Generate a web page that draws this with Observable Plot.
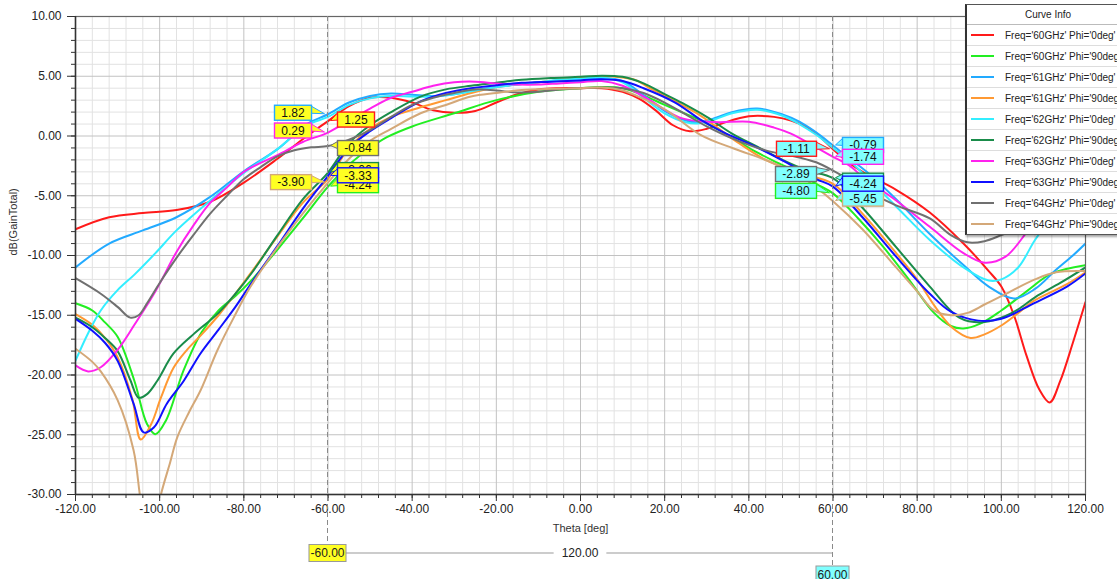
<!DOCTYPE html>
<html>
<head>
<meta charset="utf-8">
<script src="https://cdn.jsdelivr.net/npm/d3@7"></script>
<script src="https://cdn.jsdelivr.net/npm/@observablehq/plot@0.6"></script>
<style>
  body { margin: 0; background: #fff; }
  #wrap { position: relative; width: 1117px; height: 579px; overflow: hidden; font-family: "Liberation Sans", Arial, sans-serif; }
  #legend { position: absolute; left: 965px; top: 4px; width: 162px; background: #fff; border: 1px solid #555; border-left: 2px solid #333; box-shadow: 1px 2px 2px rgba(0,0,0,0.35); }
  #legend .title { height: 19px; line-height: 19px; text-align: center; font-size: 10px; color: #222; border-bottom: 1px solid #bbb; }
  #legend .row { height: 20px; display: flex; align-items: center; border-bottom: 1px solid #ddd; white-space: nowrap; font-size: 10px; letter-spacing: 0px; color: #222; }
  #legend .row:last-child { border-bottom: none; }
  #legend .swatch { width: 23px; height: 2.5px; margin-left: 4px; margin-right: 11px; flex: none; }
</style>
</head>
<body>
<div id="wrap"></div>
<script>
// ---------- data ----------
const seriesNames = [
  "Freq='60GHz' Phi='0deg'", "Freq='60GHz' Phi='90deg'",
  "Freq='61GHz' Phi='0deg'", "Freq='61GHz' Phi='90deg'",
  "Freq='62GHz' Phi='0deg'", "Freq='62GHz' Phi='90deg'",
  "Freq='63GHz' Phi='0deg'", "Freq='63GHz' Phi='90deg'",
  "Freq='64GHz' Phi='0deg'", "Freq='64GHz' Phi='90deg'"
];

// [Theta deg, dB(GainTotal)]
const f60p0 = [[-120,-7.8],[-112,-6.8],[-104,-6.45],[-96,-6.2],[-88,-5.5],[-80,-3.9],[-72,-1.9],[-65,0.0],[-60,1.25],[-55,2.5],[-50,3.2],[-45,3.2],[-40,2.8],[-35,2.15],[-30,1.95],[-25,2.1],[-20,2.8],[-15,3.5],[-10,3.9],[-5,4.0],[0,4.0],[5,4.0],[10,3.7],[14,3.1],[18,2.1],[22,0.9],[26,0.4],[30,0.6],[34,1.1],[40,1.65],[46,1.6],[50,1.3],[54,0.7],[57,-0.1],[60,-1.11],[64,-2.3],[68,-3.2],[75,-4.5],[83,-6.4],[91,-9.0],[97,-11.3],[100,-12.6],[103,-15.0],[106,-18.4],[109,-21.2],[111.5,-22.3],[114,-20.5],[117,-17.3],[120,-13.9]];
const f60p90 = [[-120,-14.0],[-116,-14.6],[-113,-15.6],[-110,-16.8],[-106,-20.5],[-103,-24.1],[-101,-24.95],[-98.5,-23.8],[-94.3,-19.6],[-90,-16.4],[-86,-14.6],[-82,-13.4],[-78,-12.0],[-72,-9.5],[-66,-6.9],[-60,-4.24],[-55,-2.4],[-50,-1.0],[-46,-0.1],[-40,0.8],[-30,1.9],[-20,3.0],[-10,3.7],[0,4.0],[5,4.1],[10,4.0],[15,3.4],[20,2.6],[28,1.4],[35,0.1],[40,-1.0],[46,-2.1],[52,-3.1],[56,-4.0],[60,-4.8],[66,-6.9],[72,-9.3],[78,-12.0],[84,-14.8],[88,-15.9],[91,-16.1],[95,-15.7],[100,-14.6],[106,-13.0],[112,-11.5],[120,-10.8]];
const f61p0 = [[-120,-11.0],[-112,-9.0],[-104,-7.9],[-96,-6.8],[-88,-5.1],[-80,-2.95],[-72,-1.1],[-65,1.0],[-60,1.82],[-55,2.8],[-50,3.35],[-45,3.55],[-40,3.45],[-35,3.35],[-30,3.5],[-25,3.8],[-20,4.1],[-15,4.3],[-10,4.5],[-5,4.65],[0,4.75],[5,4.85],[10,4.6],[15,3.4],[20,2.1],[25,1.3],[28,1.15],[32,1.5],[36,2.0],[42,2.3],[48,1.8],[52,1.2],[56,0.3],[60,-0.79],[64,-1.9],[68,-3.0],[75,-5.3],[83,-8.2],[91,-10.8],[97,-12.6],[103,-13.6],[108,-12.8],[113,-11.2],[117,-10.0],[120,-9.0]];
const f61p90 = [[-120,-14.9],[-116,-15.8],[-113,-16.9],[-110,-18.5],[-106.5,-22.0],[-104.5,-25.4],[-102,-24.1],[-99.7,-21.9],[-96.7,-19.4],[-93.5,-17.9],[-90,-16.6],[-86,-15.0],[-82,-13.2],[-78,-11.3],[-72,-8.4],[-66,-5.6],[-60,-3.6],[-55,-1.0],[-50,0.6],[-45,1.6],[-38,2.4],[-32,3.0],[-26,3.6],[-20,4.1],[-14,4.35],[-7,4.6],[0,4.85],[5,5.0],[10,4.9],[13,4.7],[16,4.1],[20.6,3.25],[28.5,1.7],[36.4,-0.3],[44,-2.0],[52,-3.1],[60,-4.0],[67,-6.5],[75,-9.8],[80,-12.0],[84.3,-14.3],[88.2,-16.0],[92.7,-16.9],[96,-16.6],[99.8,-15.9],[103.7,-14.9],[107.7,-13.8],[115.6,-12.4],[120,-11.4]];
const f62p0 = [[-120,-18.8],[-117,-16.5],[-114,-14.6],[-110,-12.9],[-106,-11.6],[-101,-9.8],[-96,-7.9],[-88,-5.4],[-80,-3.1],[-72,-1.1],[-65,0.9],[-60,1.6],[-55,2.6],[-50,3.15],[-45,3.35],[-40,3.3],[-35,3.3],[-30,3.5],[-25,3.8],[-20,4.1],[-15,4.3],[-10,4.5],[-5,4.7],[0,4.8],[5,4.9],[10,4.5],[15,3.2],[20,1.9],[25,1.15],[28,1.05],[32,1.4],[36,1.9],[42,2.2],[48,1.7],[52,1.0],[56,0.1],[60,-1.0],[64,-2.1],[67.3,-3.2],[75,-5.9],[83,-8.7],[91,-11.0],[97,-12.1],[100,-12.0],[104,-11.0],[108,-8.7],[112,-6.8],[116,-5.5],[120,-4.5]];
const f62p90 = [[-120,-15.2],[-116,-16.0],[-113,-16.9],[-110,-18.0],[-107,-20.4],[-105,-21.9],[-103,-21.6],[-100.6,-20.5],[-96.7,-18.2],[-92,-16.6],[-86,-14.8],[-82,-13.2],[-78,-11.4],[-72,-8.3],[-66,-5.3],[-60,-3.06],[-55,-0.6],[-50,0.9],[-45,2.0],[-38,3.3],[-32,3.9],[-26,4.2],[-20,4.45],[-14,4.7],[-7,4.85],[0,4.95],[5,5.05],[10,4.95],[15,4.4],[20,3.5],[25,2.6],[30,1.6],[36,0.2],[42,-0.9],[48,-2.0],[54,-2.9],[60,-3.53],[67,-6.0],[75,-9.3],[83,-12.6],[90,-15.2],[95,-15.6],[100,-15.2],[104,-14.5],[108,-13.5],[114,-12.3],[120,-11.0]];
const f63p0 = [[-120,-19.2],[-117,-19.7],[-114,-19.35],[-110,-17.9],[-106,-15.8],[-101,-13.0],[-96,-9.7],[-92,-7.5],[-88,-5.6],[-84,-4.3],[-80,-3.0],[-72,-1.6],[-66,-0.5],[-60,0.29],[-55,1.3],[-50,2.3],[-45,3.2],[-40,3.7],[-35,4.2],[-30,4.5],[-25,4.55],[-20,4.4],[-15,4.3],[-10,4.3],[-5,4.4],[0,4.5],[5,4.6],[10,4.2],[16,3.1],[20,2.2],[24,1.5],[28,1.25],[33,1.15],[40,1.2],[46,0.7],[50,0.2],[56,-0.95],[60,-1.74],[64,-2.5],[67,-3.4],[75,-5.4],[83,-7.6],[91,-9.8],[96,-10.6],[101,-10.1],[107,-7.6],[113,-5.0],[120,-3.0]];
const f63p90 = [[-120,-15.3],[-116,-16.3],[-113,-17.3],[-110,-18.8],[-106.2,-22.4],[-103.8,-24.8],[-101.4,-24.4],[-98.3,-22.4],[-94.3,-20.5],[-90.3,-18.2],[-86,-16.2],[-82,-14.3],[-78,-12.2],[-72,-9.2],[-66,-6.1],[-60,-3.33],[-55,-1.0],[-50,0.4],[-45,1.5],[-38,2.9],[-32,3.6],[-26,4.0],[-20,4.25],[-14,4.45],[-7,4.55],[0,4.65],[5,4.75],[10,4.6],[15,4.0],[22.5,2.8],[28.8,1.3],[34,0.3],[40.4,-0.7],[48.3,-2.1],[56,-3.6],[60,-4.24],[67,-6.8],[75,-10.1],[83,-13.2],[88,-14.7],[94.5,-15.45],[100,-15.3],[107.7,-14.0],[115.6,-12.6],[120,-11.5]];
const f64p0 = [[-120,-11.9],[-114,-13.2],[-110,-14.3],[-107,-15.2],[-105,-15.0],[-103,-14.0],[-100,-12.3],[-96,-10.2],[-92,-8.3],[-88,-6.5],[-84,-5.0],[-80,-3.6],[-76,-2.6],[-72,-1.7],[-68,-1.2],[-64,-0.95],[-60,-0.84],[-55,-0.3],[-50,0.5],[-45,1.6],[-40,2.6],[-35,3.2],[-30,3.6],[-25,3.9],[-20,3.8],[-15,3.65],[-10,3.7],[-5,3.9],[0,4.0],[5,4.05],[10,4.0],[15,3.6],[20,2.8],[25,1.8],[30,0.8],[36,-0.2],[44,-1.2],[52,-1.8],[56,-2.2],[60,-2.89],[64,-3.7],[68,-4.6],[75,-5.8],[83,-6.9],[88,-8.3],[92,-8.9],[96,-8.8],[100,-8.3],[110,-6.8],[120,-5.5]];
const f64p90 = [[-120,-17.8],[-116,-18.9],[-114,-19.7],[-110,-22.1],[-106.2,-26.3],[-104.5,-30.5],[-103,-33],[-101.5,-33],[-99.7,-30.0],[-97.5,-27.3],[-95.8,-25.2],[-93,-23.1],[-90.3,-21.3],[-86.3,-17.95],[-82.4,-15.2],[-78.4,-12.6],[-72,-9.3],[-66,-6.5],[-60,-3.9],[-55,-1.9],[-50,-0.4],[-45,0.6],[-38,1.9],[-32,2.6],[-26,3.3],[-20,3.6],[-14,3.85],[-7,3.95],[0,4.0],[5,4.05],[10,3.8],[15,3.1],[20.6,2.1],[28.5,0.1],[36.4,-1.05],[44.3,-2.05],[52,-3.3],[56,-4.3],[60,-5.45],[67,-7.8],[75,-11.0],[80,-13.0],[84,-14.6],[88,-15.0],[92,-14.8],[96,-14.1],[100,-13.4],[108,-12.0],[113,-11.4],[120,-11.3]];

const seriesData = [f60p0, f60p90, f61p0, f61p90, f62p0, f62p90, f63p0, f63p90, f64p0, f64p90];

// markers
const markerA = -60;
const markerB = 60;
const markerAValues = [1.82, 1.25, 0.29, -0.84, -3.06, -4.24, -3.33, -3.90];
const markerASeries = [2, 0, 6, 8, 5, 1, 7, 9];
const markerBValues = [-0.79, -1.11, -1.74, -2.89, -3.53, -5.45, -4.24, -4.80];
const markerBSeries = [2, 0, 6, 8, 5, 9, 7, 1];

// ticks
const xMajor = d3.range(-120, 121, 20);
const xMinor = d3.range(-120, 121, 4);
const yMajor = d3.range(-30, 11, 5);
const yMinor = d3.range(-30, 11, 1);

// ---------- styles ----------
const seriesColors = ["#ff1a1a", "#22ee22", "#22aaff", "#ff9933", "#33eeff", "#1a8c4a", "#ff22ee", "#1010ff", "#707070", "#d4a878"];
const FONT = "'Liberation Sans', Arial, sans-serif";
const labelLayoutA = [[-1, -1], [1, -1], [-1, -1.5], [1, 2.5], [1, -2], [1, -1], [1, 0], [-1, 0]];
const labelLayoutB = [[1, 0], [-1, 0], [1, 0.5], [-1, 4], [1, 3], [1, -2], [1, -2.5], [-1, -2]];

const fmt = d => d.toFixed(2);
const ctx2d = document.createElement("canvas").getContext("2d");
ctx2d.font = "12px 'Liberation Sans', Arial";
const measure = t => ctx2d.measureText(t).width;

function labelMark(theta, vals, idx, layout, fill) {
  return (index, scales, values, dims) => {
    const g = d3.create("svg:g").attr("font-size", 12).attr("font-family", FONT);
    const px = scales.x(theta);
    vals.forEach((v, i) => {
      const [side, dy] = layout[i];
      const py = scales.y(v);
      const t = fmt(v);
      const w = Math.round(measure(t) + 14), h = 15;
      const cy = py + dy, top = cy - h / 2;
      const bx = side < 0 ? px - 16 - w : px + 10;
      const edge = side < 0 ? bx + w : bx;
      const tip = side < 0 ? px - 3 : px + 3;
      const col = seriesColors[idx[i]];
      g.append("path").attr("d", `M${edge},${top + 1}L${tip},${py}L${edge},${top + 8}Z`)
        .attr("fill", fill).attr("stroke", col).attr("stroke-width", 1);
      g.append("rect").attr("x", bx).attr("y", top).attr("width", w).attr("height", h)
        .attr("fill", fill).attr("stroke", col).attr("stroke-width", 1.4);
      g.append("text").attr("x", bx + w / 2).attr("y", cy).attr("dy", "0.36em")
        .attr("text-anchor", "middle").attr("fill", "#111").text(t);
    });
    return g.node();
  };
}

function markerLinesMark(index, scales, values, dims) {
  const g = d3.create("svg:g").attr("font-size", 12).attr("font-family", FONT);
  const top = dims.marginTop, bottom = dims.height - dims.marginBottom;
  const xl = scales.x(markerA), xr = scales.x(markerB), xm = scales.x((markerA + markerB) / 2);
  const barY = bottom + 59;
  g.append("line").attr("x1", xl).attr("x2", xl).attr("y1", top).attr("y2", barY - 8.5)
    .attr("stroke", "#8a8a8a").attr("stroke-dasharray", "5,3");
  g.append("line").attr("x1", xr).attr("x2", xr).attr("y1", top).attr("y2", barY + 13)
    .attr("stroke", "#8a8a8a").attr("stroke-dasharray", "5,3");
  const lt = fmt(markerA), rt = fmt(markerB), dt = fmt(markerB - markerA);
  const wl = measure(lt) + 3, wr = measure(rt) + 3, wd = measure(dt) + 16;
  g.append("line").attr("x1", xl + wl / 2).attr("x2", xm - wd / 2).attr("y1", barY).attr("y2", barY).attr("stroke", "#999");
  g.append("line").attr("x1", xm + wd / 2).attr("x2", xr).attr("y1", barY).attr("y2", barY).attr("stroke", "#999");
  g.append("text").attr("x", xm).attr("y", barY).attr("dy", "0.36em").attr("text-anchor", "middle").attr("fill", "#222").text(dt);
  g.append("rect").attr("x", xl - wl / 2).attr("y", barY - 8.5).attr("width", wl).attr("height", 17)
    .attr("fill", "#ffff22").attr("stroke", "#999");
  g.append("text").attr("x", xl).attr("y", barY).attr("dy", "0.36em").attr("text-anchor", "middle").attr("fill", "#222").text(lt);
  g.append("rect").attr("x", xr - wr / 2).attr("y", barY + 13).attr("width", wr).attr("height", 17)
    .attr("fill", "#80ffff").attr("stroke", "#999");
  g.append("text").attr("x", xr).attr("y", barY + 21.5).attr("dy", "0.36em").attr("text-anchor", "middle").attr("fill", "#222").text(rt);
  return g.node();
}

const lineMarks = seriesData.map((pts, i) =>
  Plot.line(pts, {x: d => d[0], y: d => d[1], stroke: seriesColors[i], strokeWidth: 2, curve: "catmull-rom", clip: true})
);

const chart = Plot.plot({
  width: 1117,
  height: 579,
  marginLeft: 75,
  marginRight: 32,
  marginTop: 16,
  marginBottom: 85,
  x: {domain: [-120, 120]},
  y: {domain: [-30, 10]},
  style: {fontFamily: FONT, fontSize: "12px", color: "#222", background: "#fff", overflow: "visible"},
  marks: [
    Plot.ruleX(xMinor.filter(d => d % 20 !== 0), {stroke: "#e2e2e2"}),
    Plot.ruleY(yMinor.filter(d => d % 5 !== 0), {stroke: "#e2e2e2"}),
    Plot.ruleX(xMajor, {stroke: "#c2c2c2"}),
    Plot.ruleY(yMajor, {stroke: "#c2c2c2"}),
    ...lineMarks,
    Plot.frame({stroke: "#666", strokeWidth: 1.2}),
    Plot.ruleX([-120], {stroke: "#333", strokeWidth: 1.5}),
    Plot.ruleY([-30], {stroke: "#333", strokeWidth: 1.5}),
    Plot.axisX({ticks: xMinor, tickSize: 4, tickFormat: () => "", label: null, stroke: "#333"}),
    Plot.axisX({ticks: xMajor, tickSize: 7, tickPadding: 3, tickFormat: fmt, label: null, stroke: "#333", fontSize: 12}),
    Plot.axisY({ticks: yMinor, tickSize: 4, tickFormat: () => "", label: null, stroke: "#333"}),
    Plot.axisY({ticks: yMajor, tickSize: 8, tickPadding: 6, tickFormat: fmt, label: null, stroke: "#333", fontSize: 12}),
    Plot.text(["dB(GainTotal)"], {text: d => d, frameAnchor: "left", dx: -62, rotate: -90, fontSize: 11, fill: "#333"}),
    Plot.text(["Theta [deg]"], {text: d => d, frameAnchor: "bottom", dy: 37, fontSize: 11, fill: "#333"}),
    markerLinesMark,
    labelMark(markerA, markerAValues, markerASeries, labelLayoutA, "#ffff22"),
    labelMark(markerB, markerBValues, markerBSeries, labelLayoutB, "#80ffff")
  ]
});

const wrap = document.getElementById("wrap");
wrap.appendChild(chart);

// legend
const legend = document.createElement("div");
legend.id = "legend";
const title = document.createElement("div");
title.className = "title";
title.textContent = "Curve Info";
legend.appendChild(title);
seriesNames.forEach((name, i) => {
  const row = document.createElement("div");
  row.className = "row";
  const sw = document.createElement("span");
  sw.className = "swatch";
  sw.style.background = seriesColors[i];
  const tx = document.createElement("span");
  tx.textContent = name;
  row.appendChild(sw);
  row.appendChild(tx);
  legend.appendChild(row);
});
wrap.appendChild(legend);
</script>
</body>
</html>
